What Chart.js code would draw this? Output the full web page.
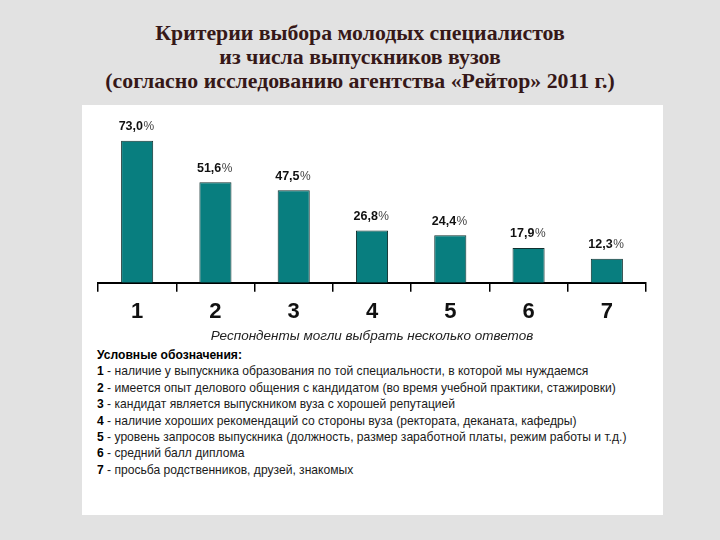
<!DOCTYPE html>
<html lang="ru">
<head>
<meta charset="utf-8">
<title>Критерии выбора молодых специалистов</title>
<script src="https://cdn.jsdelivr.net/npm/chart.js@4.4.1/dist/chart.umd.min.js"></script>
<style>
  html, body { margin: 0; padding: 0; }
  body {
    width: 720px; height: 540px; overflow: hidden; position: relative;
    background: #e2e2e2;
    font-family: "Liberation Sans", Arial, sans-serif;
  }
  #title {
    position: absolute; left: 0; top: 21px; width: 720px;
    text-align: center;
    font-family: "Liberation Serif", "Times New Roman", serif;
    font-weight: bold; font-size: 21.8px; line-height: 24px;
    color: #361818;
  }
  #panel {
    position: absolute; left: 82px; top: 105px; width: 581px; height: 410px;
    background: #fff;
  }
  #chartBox { position: absolute; left: 0; top: 0; width: 581px; height: 241px; }
  #notes {
    position: absolute; left: 15px; top: 242px; width: 566px;
    font-size: 12.1px; line-height: 16.4px; color: #1a1a1a;
  }
  #notes b { color: #000; }
</style>
</head>
<body>
<div id="title">Критерии выбора молодых специалистов<br>из числа выпускников вузов<br>(согласно исследованию агентства «Рейтор» 2011 г.)</div>
<div id="panel">
  <div id="chartBox"><canvas id="chart"></canvas></div>
  <div id="notes"></div>
</div>
<script>
const categories = ["1", "2", "3", "4", "5", "6", "7"];
const shares = [73.0, 51.6, 47.5, 26.8, 24.4, 17.9, 12.3];
const axisNote = "Респонденты могли выбрать несколько ответов";
const notesTitle = "Условные обозначения:";
const notes = [
    "наличие у выпускника образования по той специальности, в которой мы нуждаемся",
    "имеется опыт делового общения с кандидатом (во время учебной практики, стажировки)",
    "кандидат является выпускником вуза с хорошей репутацией",
    "наличие хороших рекомендаций со стороны вуза (ректората, деканата, кафедры)",
    "уровень запросов выпускника (должность, размер заработной платы, режим работы и т.д.)",
    "средний балл диплома",
    "просьба родственников, друзей, знакомых"
];

// legend text below the chart
const notesBox = document.getElementById("notes");
let html = "<b>" + notesTitle + "</b>";
notes.forEach((t, i) => { html += "<br><b>" + categories[i] + "</b> - " + t; });
notesBox.innerHTML = html;

// value labels like "73,0%" with a lighter percent sign
const valueLabels = {
    id: "valueLabels",
    afterDatasetsDraw(chart) {
        const ctx = chart.ctx;
        const meta = chart.getDatasetMeta(0);
        const numFont = "bold 12.5px 'Liberation Sans', Arial, sans-serif";
        const pctFont = "12px 'Liberation Sans', Arial, sans-serif";
        ctx.save();
        ctx.textBaseline = "middle";
        ctx.textAlign = "left";
        meta.data.forEach((bar, i) => {
            const num = shares[i].toFixed(1).replace(".", ",");
            ctx.font = numFont;
            const w1 = ctx.measureText(num).width;
            ctx.font = pctFont;
            const w2 = ctx.measureText("%").width;
            const x0 = bar.x - 1 - (w1 + w2) / 2;
            const y = bar.y - 14;
            ctx.font = numFont;
            ctx.fillStyle = "#111";
            ctx.fillText(num, x0, y);
            ctx.font = pctFont;
            ctx.fillStyle = "#444";
            ctx.fillText("%", x0 + w1 + 0.5, y);
        });
        ctx.restore();
    }
};

new Chart(document.getElementById("chart").getContext("2d"), {
    type: "bar",
    data: {
        labels: categories,
        datasets: [{
            data: shares,
            backgroundColor: "#087e7f",
            borderColor: "#10302f",
            borderWidth: 1,
            barPercentage: 0.41,
            categoryPercentage: 1
        }]
    },
    options: {
        responsive: true,
        maintainAspectRatio: false,
        animation: false,
        layout: { padding: { left: 16, right: 17, top: 22, bottom: 2 } },
        plugins: {
            legend: { display: false },
            tooltip: { enabled: false }
        },
        scales: {
            y: { display: false, min: 0, max: 80 },
            x: {
                border: { display: true, color: "#000", width: 2 },
                grid: {
                    drawOnChartArea: false,
                    color: "#000",
                    lineWidth: 1.5,
                    tickLength: 9
                },
                ticks: {
                    color: "#111",
                    padding: 9,
                    font: { family: "'Liberation Sans Narrow', 'Arial Narrow', 'Liberation Sans', sans-serif", size: 22, weight: "bold", lineHeight: 1 }
                },
                title: {
                    display: true,
                    text: axisNote,
                    color: "#222",
                    padding: { top: -4, bottom: 0 },
                    font: { family: "'Liberation Sans', Arial, sans-serif", size: 13.5, style: "italic" }
                }
            }
        }
    },
    plugins: [valueLabels]
});
</script>
</body>
</html>
